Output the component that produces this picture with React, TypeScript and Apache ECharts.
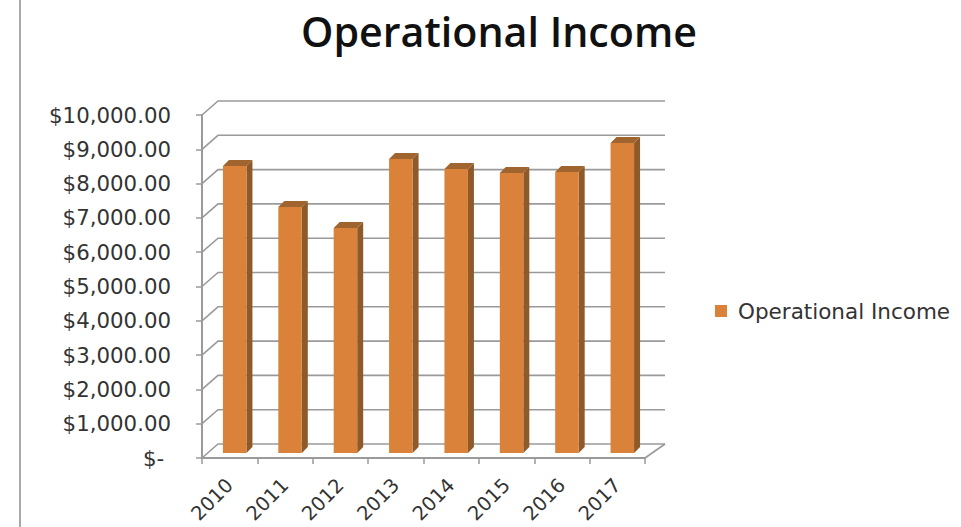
import React, { useEffect, useRef } from "react";
import * as echarts from "echarts";

const categories = ["2010", "2011", "2012", "2013", "2014", "2015", "2016", "2017"];
const income = [8370, 7170, 6560, 8570, 8280, 8160, 8190, 9040];
const wallTicks = [0, 1000, 2000, 3000, 4000, 5000, 6000, 7000, 8000, 9000, 10000];
const tickLabels = ["$- ", "$1,000.00", "$2,000.00", "$3,000.00", "$4,000.00", "$5,000.00", "$6,000.00", "$7,000.00", "$8,000.00", "$9,000.00", "$10,000.00"];
const seriesName = "Operational Income";

const FRONT = "#DA813A";
const SIDE = "#8F5A2A";
const TOP = "#A0642E";
const GRID = "#9A9A9A";
const TEXT = "#333333";
const UI_FONT = "'DejaVu Sans'";

export default function App() {
  const ref = useRef<HTMLDivElement>(null);
  useEffect(() => {
    const chart = echarts.init(ref.current!, null, { renderer: "svg" });
    chart.setOption({
      animation: false,
      backgroundColor: "#ffffff",
      title: {
        text: seriesName,
        left: 494,
        top: 5,
        textAlign: "center",
        textStyle: { fontFamily: "'Open Sans'", fontWeight: 600, fontSize: 41.2, color: "#111111" },
      },
      graphic: [
        { type: "line", shape: { x1: 20, y1: 0, x2: 20, y2: 527 }, style: { stroke: "#8c8c8c", lineWidth: 1.5 } },
      ],
      legend: {
        data: [seriesName],
        left: 710,
        top: 295,
        icon: "rect",
        itemWidth: 12,
        itemHeight: 12,
        itemGap: 0,
        textStyle: { fontFamily: UI_FONT, fontSize: 21.5, color: TEXT, padding: [0, 0, 0, 6] },
      },
      grid: { left: 202, right: 316, top: 115, bottom: 69, outerBoundsMode: "none" },
      xAxis: {
        type: "category",
        data: categories,
        axisLine: { lineStyle: { color: GRID, width: 2 } },
        axisTick: { show: true, length: 6, lineStyle: { color: GRID, width: 1.5 } },
        axisLabel: { rotate: 45, margin: 24, interval: 0, fontFamily: UI_FONT, fontSize: 19.5, color: TEXT },
      },
      yAxis: {
        type: "value",
        min: 0,
        max: 10000,
        interval: 1000,
        splitLine: { show: false },
        axisLine: { show: true, lineStyle: { color: GRID, width: 2 } },
        axisTick: { show: true, length: 6, lineStyle: { color: GRID, width: 1.5 } },
        axisLabel: {
          margin: 31,
          fontFamily: UI_FONT,
          fontSize: 21.3,
          color: TEXT,
          formatter: (v: number) => tickLabels[wallTicks.indexOf(v)],
        },
      },
      series: [
        {
          type: "custom",
          name: "walls",
          silent: true,
          z: 1,
          clip: false,
          data: wallTicks.map((v) => [0, v]),
          encode: { x: 0, y: 1 },
          renderItem: (params: any, api: any) => {
            const c = params.coordSys;
            const y = api.coord([0, api.value(1)])[1];
            const children: any[] = [
              {
                type: "polyline",
                shape: { points: [[c.x, y], [c.x + 16, y - 14], [c.x + c.width + 20, y - 14]] },
                style: { stroke: GRID, lineWidth: 1.6, fill: "none" },
              },
            ];
            if (api.value(1) === 0) {
              children.push({
                type: "line",
                shape: { x1: c.x + c.width, y1: y, x2: c.x + c.width + 20, y2: y - 14 },
                style: { stroke: GRID, lineWidth: 1.6 },
              });
            }
            return { type: "group", children };
          },
        },
        {
          type: "custom",
          name: seriesName,
          z: 3,
          clip: false,
          itemStyle: { color: FRONT },
          data: income.map((v, i) => [i, v]),
          encode: { x: 0, y: 1 },
          renderItem: (params: any, api: any) => {
            const idx = api.value(0);
            const [cx, yTop] = api.coord([idx, api.value(1)]);
            const yBase = api.coord([idx, 0])[1];
            const w = 23.5;
            const x0 = cx + 5 - w / 2;
            const x1 = x0 + w;
            const t = yTop - 5;
            const b = yBase - 5;
            const d = 6;
            return {
              type: "group",
              children: [
                {
                  type: "polygon",
                  shape: { points: [[x1, t], [x1 + d, t - d], [x1 + d, b - d], [x1, b]] },
                  style: { fill: SIDE },
                },
                {
                  type: "polygon",
                  shape: { points: [[x0, t], [x0 + d, t - d], [x1 + d, t - d], [x1, t]] },
                  style: { fill: TOP },
                },
                {
                  type: "rect",
                  shape: { x: x0, y: t, width: w, height: b - t },
                  style: { fill: FRONT },
                },
              ],
            };
          },
        },
      ],
    });
    return () => chart.dispose();
  }, []);
  return <div ref={ref} style={{ position: "fixed", left: 0, top: 0, width: 961, height: 527 }} />;
}
